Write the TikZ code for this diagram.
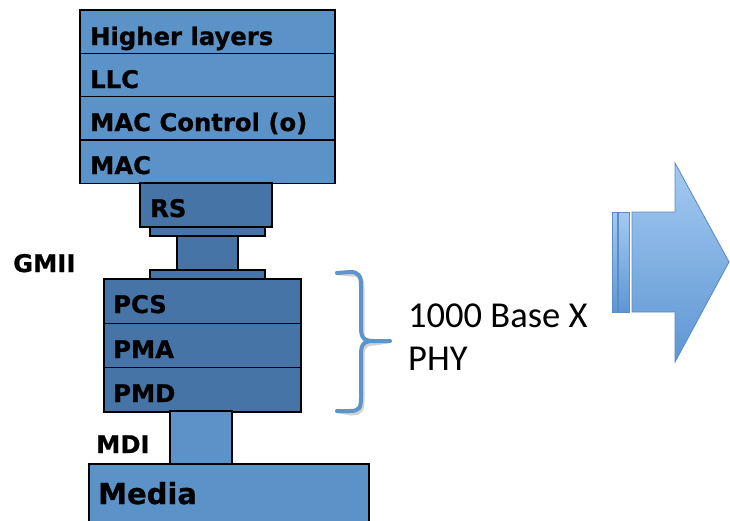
\documentclass[tikz,border=0pt]{standalone}
\usepackage{fontspec}
\setmainfont{DejaVu Sans}[BoldFeatures={FakeBold=0.8}]
\newfontfamily\phyfont{Carlito}
\usetikzlibrary{shadings}
\definecolor{layerlight}{HTML}{5B93C8}
\definecolor{layerdark}{HTML}{4674A6}
\definecolor{bracecol}{HTML}{5D95CB}
\definecolor{arrowtop}{HTML}{A4CAF1}
\definecolor{arrowbot}{HTML}{5E96D3}
\definecolor{arrowedge}{HTML}{5A8CC6}

\begin{document}
\begin{tikzpicture}[x=1pt,y=-1pt,
  layer/.style={draw=black, line width=1.4pt, outer sep=0pt, inner sep=0pt, anchor=north west},
  light/.style={layer, fill=layerlight},
  dark/.style={layer, fill=layerdark},
  lbl/.style={anchor=base west, inner sep=0pt, font=\fontsize{24.3}{28}\selectfont\bfseries},
  arrowpart/.style={draw=arrowedge, line width=0.9pt, top color=arrowtop, bottom color=arrowbot, line join=miter}
]
\useasboundingbox (0,0) rectangle (730,520);

% upper stack
\node[light, minimum width=255pt, minimum height=43.3pt] (hl)  at (80,10)  {};
\node[light, minimum width=255pt, minimum height=43.3pt] (llc) at (80,53.3) {};
\node[light, minimum width=255pt, minimum height=43.3pt] (mcc) at (80,96.6) {};
\node[light, minimum width=255pt, minimum height=43.3pt] (mac) at (80,140) {};

% reconciliation sublayer and GMII connector
\node[dark, minimum width=132pt, minimum height=44pt] (rs) at (140,183) {};
\node[dark, minimum width=115pt, minimum height=9pt] (plateA) at (150,227) {};
\node[dark, minimum width=61pt, minimum height=34pt] (gmiiconn) at (177,236) {};
\node[dark, minimum width=115pt, minimum height=9pt] (plateB) at (150,270) {};

% PHY sublayers
\node[dark, minimum width=197pt, minimum height=44.3pt] (pcs) at (104,279) {};
\node[dark, minimum width=197pt, minimum height=44.3pt] (pma) at (104,323.3) {};
\node[dark, minimum width=197pt, minimum height=44.3pt] (pmd) at (104,367.6) {};

% medium dependent interface and media
\node[light, minimum width=62pt, minimum height=53pt] (mdiconn) at (170,411) {};
\node[light, minimum width=280pt, minimum height=70pt] (media) at (89,464) {};

% layer names
\node[lbl] (thl)  at (90,45)  {Higher layers};
\node[lbl] (tllc) at (90,88)  {LLC};
\node[lbl] (tmcc) at (90,131) {MAC Control (o)};
\node[lbl] (tmac) at (90,174) {MAC};
\node[lbl] (trs)  at (150,217) {RS};
\node[lbl] (tgmii) at (13,272) {GMII};
\node[lbl] (tpcs) at (113,313) {PCS};
\node[lbl] (tpma) at (113,358) {PMA};
\node[lbl] (tpmd) at (113,402) {PMD};
\node[lbl] (tmdi) at (96,453) {MDI};
\node[lbl, font=\fontsize{29}{33}\selectfont\bfseries] (tmedia) at (98,504) {Media};

% brace around the PHY
\coordinate (bt) at (337,273);
\coordinate (bm) at (390,341);
\coordinate (bb) at (337,411);
\draw[black!35, opacity=0.5, line width=4pt, line cap=round, shift={(1.5,2.5)}]
  (bt) -- (350,272) .. controls (359,272) and (361,276) .. (361,286)
  -- (361,328) .. controls (361,338) and (364,341) .. (374,341) -- (bm)
  (374,341) .. controls (364,341) and (361,344) .. (361,354)
  -- (361,398) .. controls (361,408) and (359,411) .. (350,411) -- (bb);
\draw[bracecol, line width=4pt, line cap=round]
  (bt) -- (350,272) .. controls (359,272) and (361,276) .. (361,286)
  -- (361,328) .. controls (361,338) and (364,341) .. (374,341) -- (bm)
  (374,341) .. controls (364,341) and (361,344) .. (361,354)
  -- (361,398) .. controls (361,408) and (359,411) .. (350,411) -- (bb);

\node[anchor=base west, inner sep=0pt, align=left, font=\phyfont\fontsize{36.5}{43}\selectfont] (tphy) at (408,370) {1000 Base X\\PHY};

% block arrow
\path[arrowpart] (632,212) -- (675,212) -- (675,163) -- (729,262) -- (675,362) -- (675,312) -- (632,312) -- cycle;
\path[arrowpart] (618,212) rectangle (629,312);
\path[arrowpart] (612,212) rectangle (617,312);
\end{tikzpicture}
\end{document}
